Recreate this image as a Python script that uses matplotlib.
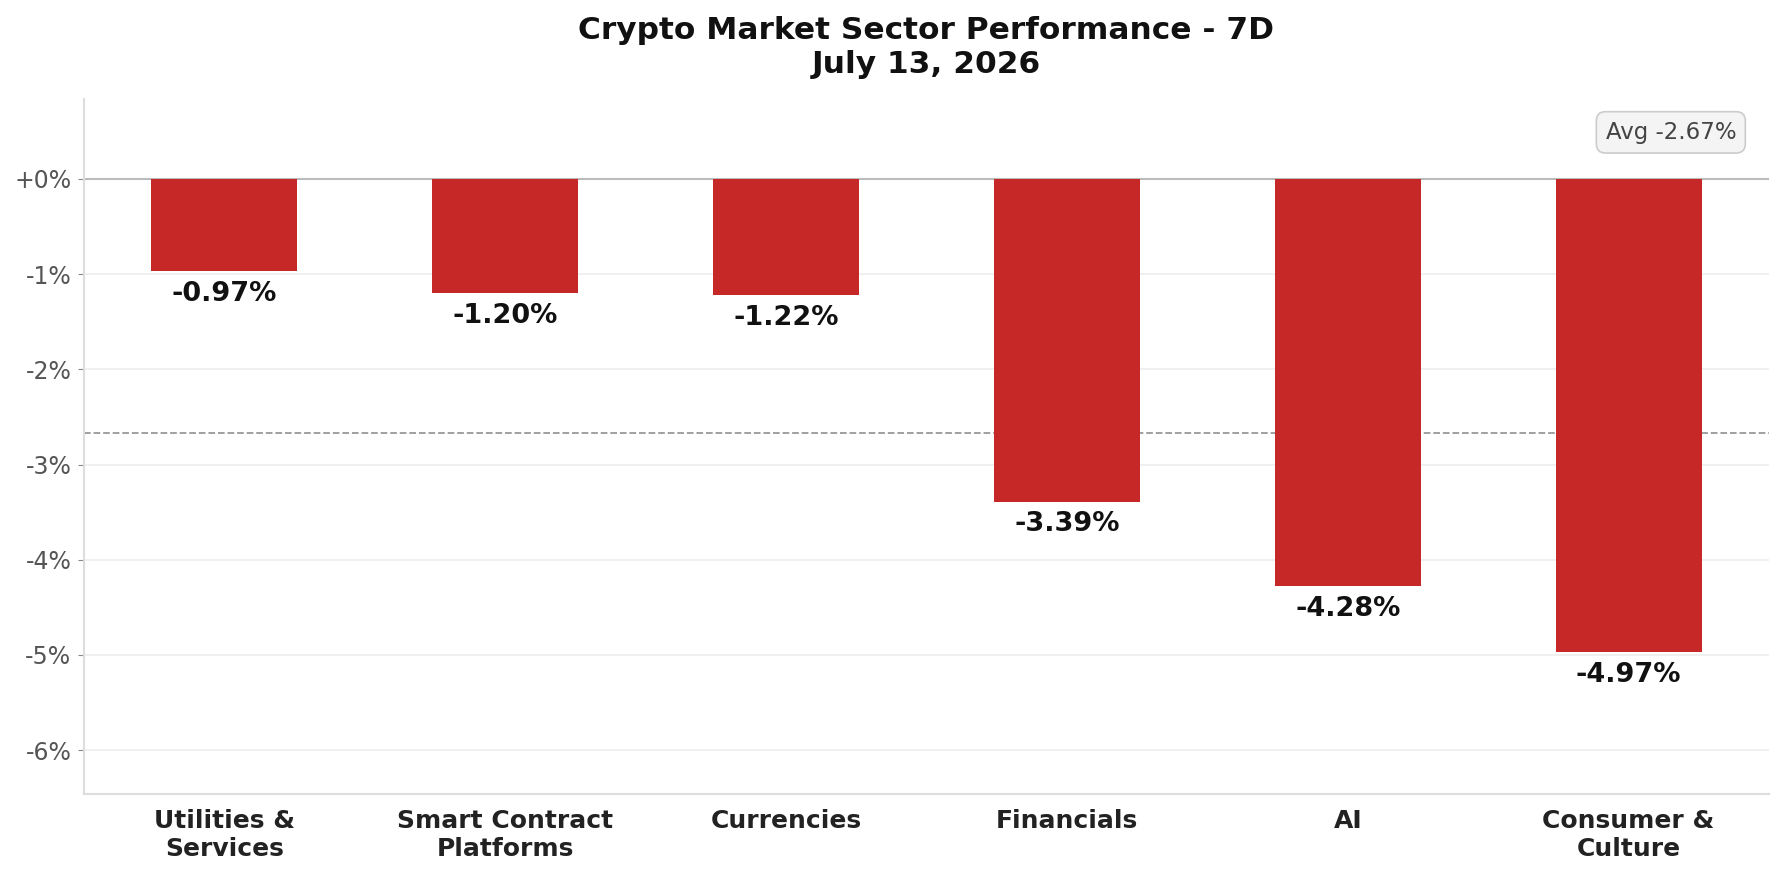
import numpy as np
from matplotlib import pyplot as plt
from matplotlib.ticker import FuncFormatter

# Данные по секторам
sectors = ["Utilities &\nServices", "Smart Contract\nPlatforms", "Currencies",
           "Financials", "AI", "Consumer &\nCulture"]
changes = [-0.97, -1.20, -1.22, -3.39, -4.28, -4.97]
avg_change = -2.67
yticks = [0, -1, -2, -3, -4, -5, -6]

fig, ax = plt.subplots(figsize=(17.84, 8.76), dpi=100)
fig.subplots_adjust(left=0.047, right=0.9916, top=0.887, bottom=0.0936)

x = np.arange(len(sectors))
bars = ax.bar(x, changes, width=0.52, color="#c62828", zorder=3)

# Подписи значений под столбцами
for b, v in zip(bars, changes):
    ax.annotate(f"{v:+.2f}%", (b.get_x() + b.get_width() / 2, v),
                xytext=(0, -7), textcoords="offset points",
                ha="center", va="top", fontsize=19.5, fontweight="bold",
                color="#111111", zorder=4)

ax.axhline(0, color="#bbbbbb", linewidth=1.5, zorder=2)
ax.axhline(avg_change, color="#999999", linewidth=1.3, linestyle="--", zorder=2)
ax.text(0.9805, 0.952, f"Avg {avg_change:.2f}%", transform=ax.transAxes,
        ha="right", va="center", fontsize=16.5, color="#444444",
        bbox=dict(boxstyle="round,pad=0.4", facecolor="#f4f4f4", edgecolor="#cccccc", linewidth=1.2))

ax.set_xlim(-0.5, len(sectors) - 0.5)
ax.set_ylim(min(changes) * 1.3, 0.84)
ax.set_yticks(yticks)
ax.yaxis.set_major_formatter(FuncFormatter(lambda v, p: f"{v:+.0f}%"))
ax.set_xticks(x)
ax.set_xticklabels(sectors, fontsize=18, fontweight="bold", color="#222222")
ax.tick_params(axis="x", length=0, pad=11)
ax.tick_params(axis="y", labelsize=17, labelcolor="#555555", color="#888888", length=4, pad=5)

ax.grid(axis="y", color="#eeeeee", linewidth=1.2, zorder=0)
ax.set_axisbelow(True)
for s in ["top", "right"]:
    ax.spines[s].set_visible(False)
for s in ["left", "bottom"]:
    ax.spines[s].set_color("#dddddd")
    ax.spines[s].set_linewidth(1.5)

ax.set_title("Crypto Market Sector Performance - 7D\nJuly 13, 2026",
             fontsize=22.5, fontweight="bold", color="#111111", pad=19, linespacing=1.2)

plt.savefig("out.png", dpi=100)
